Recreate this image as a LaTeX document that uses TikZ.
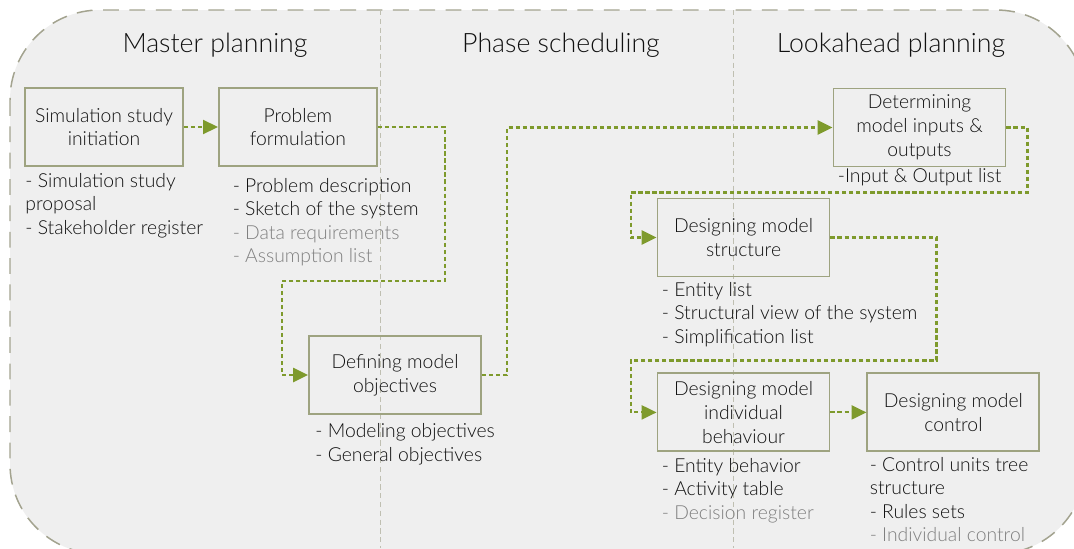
\documentclass[tikz,border=0pt]{standalone}
\usepackage{fontspec}
\setmainfont{Lato}[UprightFont=* Light]
\usetikzlibrary{positioning}
\usetikzlibrary{arrows.meta}

\definecolor{panel}{HTML}{EFEFEF}
\definecolor{rim}{HTML}{A3A38F}
\definecolor{boxline}{HTML}{9EA380}
\definecolor{flowgreen}{HTML}{7E9A2C}
\definecolor{faded}{HTML}{7F7F7F}
\definecolor{ink}{HTML}{111111}

\tikzset{
  phase/.style={font=\fontsize{15.2}{17}\selectfont, text=ink},
  stage/.style={draw=boxline, line width=1.1pt, minimum height=1.56cm, align=center, inner sep=0pt, font=\fontsize{11}{13.6}\selectfont, text=ink},
  outputs/.style={align=left, inner sep=0pt, anchor=north west, font=\fontsize{11}{13.3}\selectfont, text=ink},
  flow/.style={draw=flowgreen, line width=1.2pt, dash pattern=on 2.4pt off 1.6pt, -{Triangle[length=8.5pt,width=8pt]}},
  divider/.style={draw=rim!70, line width=0.5pt, dash pattern=on 3pt off 2pt}
}

\begin{document}
\begin{tikzpicture}[x=0.02cm,y=-0.02cm]
\useasboundingbox (0,0) rectangle (1074,548);
% background panel
\begin{scope}
\clip (0,0) rectangle (1074,548);
\fill[panel, rounded corners=1.8cm] (10,10) rectangle (1086,554);
\draw[rim, line width=0.85pt, dash pattern=on 9pt off 6pt, rounded corners=1.8cm] (10,10) rectangle (1086,554);
\end{scope}
\draw[divider] (380,10) -- (380,548);
\draw[divider] (733,10) -- (733,548);

% phase titles
\node[phase] (master) at (215,45) {Master planning};
\node[phase] (phasesch) at (561,45) {Phase scheduling};
\node[phase] (lookahead) at (891,45) {Lookahead planning};

% stages
\node[stage, minimum width=3.16cm] (sim) at (104,127) {Simulation study\\initiation};
\node[stage, minimum width=3.16cm, right=0.68cm of sim] (prob) {Problem\\formulation};
\node[stage, minimum width=3.44cm] (obj) at (395,375) {Defining model\\objectives};
\node[stage, minimum width=3.44cm] (inout) at (919.5,127.5) {Determining\\model inputs \&\\outputs};
\node[stage, minimum width=3.44cm] (struct) at (743.5,237.5) {Designing model\\structure};
\node[stage, minimum width=3.44cm, below=1.9cm of struct] (indiv) {Designing model\\individual\\behaviour};
\node[stage, minimum width=3.44cm, right=0.72cm of indiv] (ctrl) {Designing model\\control};

% outputs of each stage
\node[below=0.12cm of sim.south west, outputs, xshift=0.02cm] (simout) {- Simulation study\\proposal\\- Stakeholder register};
\node[below=0.22cm of prob.south west, outputs, xshift=0.29cm] (probout) {- Problem description\\- Sketch of the system\\\textcolor{faded}{- Data requirements}\\\textcolor{faded}{- Assumption list}};
\node[below=0.17cm of obj.south west, outputs, xshift=0.14cm] (objout) {- Modeling objectives\\- General objectives};
\node[below=0.02cm of inout.south west, outputs, xshift=0.1cm] (inoutout) {-Input \& Output list};
\node[below=0.09cm of struct.south west, outputs, xshift=0.1cm] (structout) {- Entity list\\- Structural view of the system\\- Simplification list};
\node[below=0.11cm of indiv.south west, outputs, xshift=0.1cm] (indivout) {- Entity behavior\\- Activity table\\\textcolor{faded}{- Decision register}};
\node[below=0.09cm of ctrl.south west, outputs, xshift=0.06cm] (ctrlout) {- Control units tree\\structure\\- Rules sets\\\textcolor{faded}{- Individual control}};

% flow between stages
\draw[flow] (sim) -- (prob);
\draw[flow] (prob.east) -- ++(67,0) -- ++(0,154) -| ([xshift=-0.52cm]obj.west) -- (obj.west);
\draw[flow] (obj.east) -- ++(25,0) |- (inout.west);
\draw[flow] (inout.east) -- ++(21,0) -- ++(0,65) -| ([xshift=-0.52cm]struct.west) -- (struct.west);
\draw[flow] (struct.east) -- ++(106,0) -- ++(0,123) -| ([xshift=-0.52cm]indiv.west) -- (indiv.west);
\draw[flow] (indiv) -- (ctrl);
\end{tikzpicture}
\end{document}
